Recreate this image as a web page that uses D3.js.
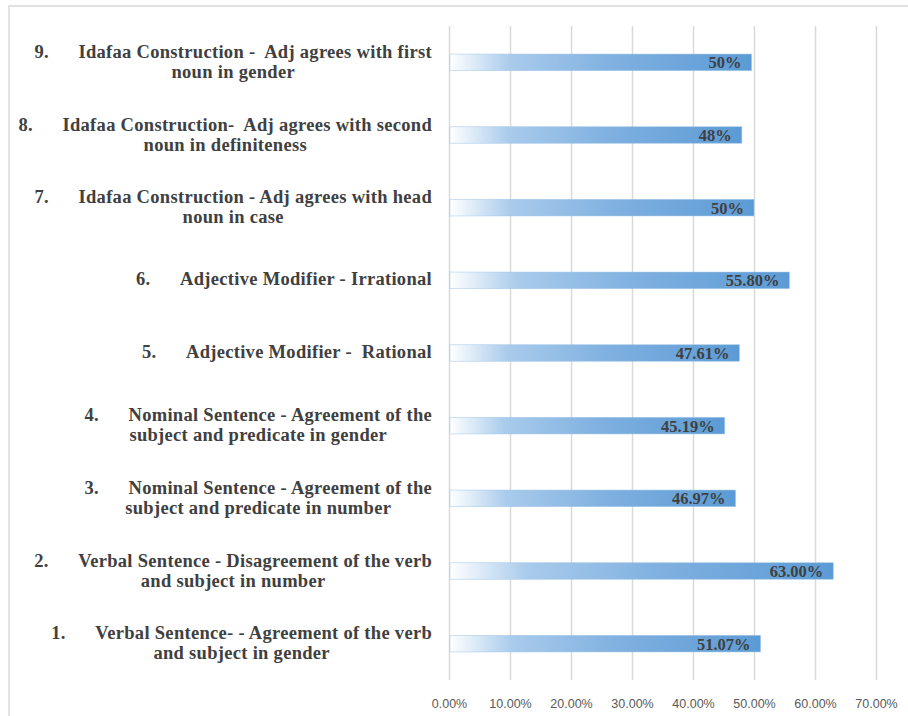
<!DOCTYPE html>
<html>
<head>
<meta charset="utf-8">
<script src="https://cdn.jsdelivr.net/npm/d3@7"></script>
<style>
  html, body { margin: 0; padding: 0; background: #ffffff; }
  svg { display: block; }
</style>
</head>
<body>
<svg id="chart" width="908" height="716"></svg>
<script>
// ---- data (bottom to top: item 1 .. item 9) ----
const categoryNumbers = ["1.", "2.", "3.", "4.", "5.", "6.", "7.", "8.", "9."];
const categoryLines = [
  ["Verbal Sentence- - Agreement of the verb", "and subject in gender"],
  ["Verbal Sentence - Disagreement of the verb", "and subject in number"],
  ["Nominal Sentence - Agreement of the", "subject and predicate in number"],
  ["Nominal Sentence - Agreement of the", "subject and predicate in gender"],
  ["Adjective Modifier -  Rational"],
  ["Adjective Modifier - Irrational"],
  ["Idafaa Construction - Adj agrees with head", "noun in case"],
  ["Idafaa Construction-  Adj agrees with second", "noun in definiteness"],
  ["Idafaa Construction -  Adj agrees with first", "noun in gender"]
];
const values = [51.07, 63.00, 46.97, 45.19, 47.61, 55.80, 50.0, 48.0, 49.6];
const valueLabels = ["51.07%", "63.00%", "46.97%", "45.19%", "47.61%", "55.80%", "50%", "48%", "50%"];
const tickValues = [0, 10, 20, 30, 40, 50, 60, 70];
const tickLabels = ["0.00%", "10.00%", "20.00%", "30.00%", "40.00%", "50.00%", "60.00%", "70.00%"];

// ---- layout ----
const svg = d3.select("#chart");
const plot = { left: 449, right: 876, top: 26, bottom: 680 };
const labelRight = 432;

const x = d3.scaleLinear().domain([0, 70]).range([plot.left, plot.right]);
const idx = d3.range(values.length);
const y = d3.scaleBand()
  .domain(idx.slice().reverse())
  .range([plot.top, plot.bottom])
  .paddingInner(0.772)
  .paddingOuter(0.386);

// outer frame
svg.append("rect")
  .attr("x", 9).attr("y", 6)
  .attr("width", 940).attr("height", 760)
  .attr("fill", "none")
  .attr("stroke", "#d9d9d9")
  .attr("stroke-width", 1.5);

// gradient
const defs = svg.append("defs");
const grad = defs.append("linearGradient")
  .attr("id", "barGrad")
  .attr("x1", "0%").attr("x2", "100%").attr("y1", "0%").attr("y2", "0%");
grad.append("stop").attr("offset", "0%").attr("stop-color", "#ffffff");
grad.append("stop").attr("offset", "20%").attr("stop-color", "#a9cbec");
grad.append("stop").attr("offset", "55%").attr("stop-color", "#7fb0e0");
grad.append("stop").attr("offset", "100%").attr("stop-color", "#5b9bd5");

// gridlines via axis
const gridAxis = d3.axisBottom(x)
  .tickValues(tickValues)
  .tickSize(-(plot.bottom - plot.top))
  .tickFormat("");
const gridG = svg.append("g")
  .attr("transform", `translate(0,${plot.bottom})`)
  .call(gridAxis);
gridG.select(".domain").remove();
gridG.selectAll(".tick line")
  .attr("stroke", "#d9d9d9")
  .attr("stroke-width", 1.5);

// tick labels via axis
const labelAxis = d3.axisBottom(x)
  .tickValues(tickValues)
  .tickSize(0)
  .tickPadding(0)
  .tickFormat((d, i) => tickLabels[i]);
const labG = svg.append("g")
  .attr("transform", `translate(0,${plot.bottom})`)
  .call(labelAxis);
labG.select(".domain").remove();
labG.selectAll(".tick text")
  .attr("dy", null)
  .attr("y", 28)
  .attr("font-family", "'Liberation Sans', Arial, sans-serif")
  .attr("font-size", "12.5px")
  .attr("fill", "#595959");

// bars
const barH = y.bandwidth();
svg.append("g").selectAll("rect")
  .data(idx)
  .join("rect")
  .attr("x", x(0) + 1)
  .attr("y", i => y(i))
  .attr("width", i => x(values[i]) - x(0) - 1)
  .attr("height", barH)
  .attr("fill", "url(#barGrad)")
  .attr("stroke", "#9dc3e6")
  .attr("stroke-opacity", 0.6)
  .attr("stroke-width", 0.8);

// value labels
svg.append("g").selectAll("text")
  .data(idx)
  .join("text")
  .attr("x", i => x(values[i]) - 10)
  .attr("y", i => y(i) + barH / 2 + 6)
  .attr("text-anchor", "end")
  .attr("font-family", "'Liberation Serif', 'Times New Roman', serif")
  .attr("font-weight", "bold")
  .attr("font-size", "16.5px")
  .attr("fill", "#404040")
  .text(i => valueLabels[i]);

// category labels
const catG = svg.append("g")
  .attr("font-family", "'Liberation Serif', 'Times New Roman', serif")
  .attr("font-weight", "bold")
  .attr("font-size", "18.5px")
  .attr("letter-spacing", "0.3px")
  .attr("fill", "#404040");

idx.forEach(i => {
  const lines = categoryLines[i];
  const cy = y(i) + barH / 2;
  const g = catG.append("g");
  const baseline1 = lines.length > 1 ? cy - 4.5 : cy + 5;
  const t1 = g.append("text")
    .attr("x", labelRight)
    .attr("y", baseline1)
    .attr("text-anchor", "end")
    .style("white-space", "pre")
    .text(lines[0]);
  const w1 = t1.node().getComputedTextLength();
  const textStart = labelRight - w1;
  const numStart = textStart - 44;
  g.append("text")
    .attr("x", numStart)
    .attr("y", baseline1)
    .attr("text-anchor", "start")
    .text(categoryNumbers[i]);
  if (lines.length > 1) {
    const center = (numStart + labelRight) / 2;
    g.append("text")
      .attr("x", center)
      .attr("y", baseline1 + 20)
      .attr("text-anchor", "middle")
      .style("white-space", "pre")
      .text(lines[1]);
  }
});
</script>
</body>
</html>
